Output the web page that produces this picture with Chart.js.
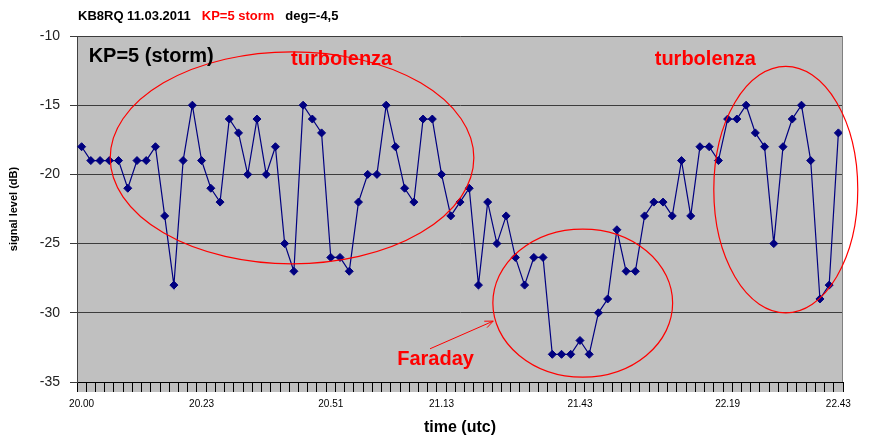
<!DOCTYPE html>
<html lang="it">
<head>
<meta charset="UTF-8">
<title>KB8RQ 11.03.2011</title>
<script src="https://cdn.jsdelivr.net/npm/chart.js"></script>
<style>
  body { margin: 0; background: #fff; }
  #wrap { width: 869px; height: 437px; }
</style>
</head>
<body>
<div id="wrap"><canvas id="chart" width="869" height="437"></canvas></div>
<script>
// ---- data: signal level per sample (dB) ----
const signalDb = [
  -18, -19, -19, -19, -19, -21, -19, -19, -18, -23,
  -28, -19, -15, -19, -21, -22, -16, -17, -20, -16,
  -20, -18, -25, -27, -15, -16, -17, -26, -26, -27,
  -22, -20, -20, -15, -18, -21, -22, -16, -16, -20,
  -23, -22, -21, -28, -22, -25, -23, -26, -28, -26,
  -26, -33, -33, -33, -32, -33, -30, -29, -24, -27,
  -27, -23, -22, -22, -23, -19, -23, -18, -18, -19,
  -16, -16, -15, -17, -18, -25, -18, -16, -15, -19,
  -29, -28, -17
];

// time labels shown on the x axis and the sample they sit under
const tickTimes = ['20.00', '20.23', '20.51', '21.13', '21.43', '22.19', '22.43'];
const tickAt = [0, 13, 27, 39, 54, 70, 82];

const yMin = -35, yMax = -10, yStep = 5;

// hand drawn notes, in data units (sample index, dB)
const ellipses = [
  { x: 22.8, y: -18.8, rx: 19.7, ry: 7.66 },
  { x: 54.3, y: -29.3, rx: 9.74, ry: 5.35 },
  { x: 76.3, y: -21.1, rx: 7.8, ry: 8.9 }
];
const notes = [
  { text: 'KP=5 (storm)', x: 0.76, y: -11.45, color: '#000' },
  { text: 'turbolenza', x: 22.7, y: -11.73, color: '#ff0000' },
  { text: 'turbolenza', x: 62.1, y: -11.73, color: '#ff0000' },
  { text: 'Faraday', x: 34.2, y: -33.4, color: '#ff0000' }
];
const arrow = { from: { x: 37.75, y: -32.6 }, to: { x: 44.6, y: -30.6 } };

const categories = signalDb.map((v, i) => {
  const k = tickAt.indexOf(i);
  return k >= 0 ? tickTimes[k] : '';
});

const FONT = "Arial, 'Liberation Sans', sans-serif";

// gray plot background, tick band, borders, header and notes
const decor = {
  id: 'decor',
  beforeDraw(chart) {
    const { ctx, chartArea: a } = chart;
    ctx.save();
    ctx.fillStyle = '#fff';
    ctx.fillRect(0, 0, chart.width, chart.height);
    ctx.fillStyle = '#c0c0c0';
    ctx.fillRect(a.left, a.top, a.right - a.left, a.bottom - a.top);
    ctx.fillRect(a.left, a.bottom, a.right - a.left, 10);
    ctx.restore();
  },
  afterDatasetsDraw(chart) {
    const { ctx, chartArea: a } = chart;
    const xs = chart.scales.x, ys = chart.scales.y;
    ctx.save();
    // right edge of the plot
    ctx.strokeStyle = '#808080';
    ctx.lineWidth = 1;
    ctx.beginPath();
    ctx.moveTo(a.right - 0.5, a.top);
    ctx.lineTo(a.right - 0.5, a.bottom);
    ctx.stroke();

    ctx.strokeStyle = '#ff0000';
    ctx.lineWidth = 1.2;
    ellipses.forEach(e => {
      const cx = xs.getPixelForValue(e.x), cy = ys.getPixelForValue(e.y);
      const rx = xs.getPixelForValue(e.x + e.rx) - cx;
      const ry = cy - ys.getPixelForValue(e.y + e.ry);
      ctx.beginPath();
      ctx.ellipse(cx, cy, rx, ry, 0, 0, Math.PI * 2);
      ctx.stroke();
    });

    // arrow towards the Faraday circle
    const x1 = xs.getPixelForValue(arrow.from.x), y1 = ys.getPixelForValue(arrow.from.y);
    const x2 = xs.getPixelForValue(arrow.to.x), y2 = ys.getPixelForValue(arrow.to.y);
    const ang = Math.atan2(y2 - y1, x2 - x1);
    ctx.lineWidth = 1;
    ctx.beginPath();
    ctx.moveTo(x1, y1);
    ctx.lineTo(x2, y2);
    ctx.moveTo(x2 - 9 * Math.cos(ang - 0.4), y2 - 9 * Math.sin(ang - 0.4));
    ctx.lineTo(x2, y2);
    ctx.lineTo(x2 - 9 * Math.cos(ang + 0.4), y2 - 9 * Math.sin(ang + 0.4));
    ctx.stroke();

    ctx.font = 'bold 20px ' + FONT;
    ctx.textBaseline = 'middle';
    ctx.textAlign = 'left';
    notes.forEach(n => {
      ctx.fillStyle = n.color;
      ctx.fillText(n.text, xs.getPixelForValue(n.x), ys.getPixelForValue(n.y));
    });

    // header line
    ctx.font = 'bold 13px ' + FONT;
    ctx.textBaseline = 'alphabetic';
    const parts = [['KB8RQ 11.03.2011', '#000'], ['KP=5 storm', '#ff0000'], ['deg=-4,5', '#000']];
    let x = 78;
    parts.forEach(p => {
      ctx.fillStyle = p[1];
      ctx.fillText(p[0], x, 20);
      x += ctx.measureText(p[0]).width + 11;
    });
    ctx.restore();
  }
};

new Chart(document.getElementById('chart'), {
  type: 'line',
  data: {
    labels: categories,
    datasets: [{
      data: signalDb,
      borderColor: '#000080',
      borderWidth: 1.2,
      pointStyle: 'rectRot',
      pointRadius: 4,
      pointBackgroundColor: '#000080',
      pointBorderColor: '#000080',
      pointBorderWidth: 1,
      tension: 0
    }]
  },
  options: {
    responsive: false,
    animation: false,
    layout: { padding: { top: 36, right: 26, left: 0, bottom: 0 } },
    plugins: { legend: { display: false }, tooltip: { enabled: false } },
    scales: {
      x: {
        type: 'category',
        offset: true,
        afterFit(s) { s.height = 55; },
        grid: { offset: true, drawOnChartArea: false, tickLength: 10, color: '#000' },
        border: { color: '#000' },
        ticks: {
          autoSkip: false, maxRotation: 0, padding: 6,
          color: '#000', font: { family: FONT, size: 10 }
        },
        title: {
          display: true, text: 'time (utc)', color: '#000',
          padding: { top: 0, bottom: 0 },
          font: { family: FONT, size: 16, weight: 'bold' }
        }
      },
      y: {
        min: yMin, max: yMax,
        afterFit(s) { s.width = 77; },
        grid: { color: '#3c3c3c', tickLength: 7 },
        border: { color: '#404040' },
        ticks: {
          stepSize: yStep, padding: 10, color: '#222',
          font: { family: FONT, size: 14 }
        },
        title: {
          display: true, text: 'signal level (dB)', color: '#000',
          padding: { top: 7, bottom: 0 },
          font: { family: FONT, size: 11, weight: 'bold' }
        }
      }
    }
  },
  plugins: [decor]
});
</script>
</body>
</html>
